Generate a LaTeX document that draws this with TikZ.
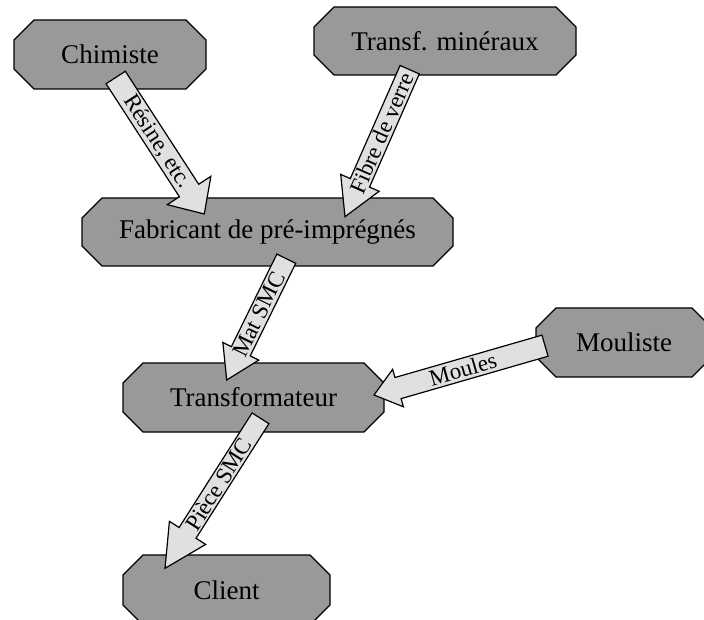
\documentclass[tikz,border=0pt]{standalone}
\usepackage{fontspec}
\setmainfont{Liberation Serif}
\usetikzlibrary{calc,backgrounds}
\definecolor{nodegray}{RGB}{153,153,153}
\definecolor{arrowgray}{RGB}{224,224,224}
\newcommand\NodeFnt{\fontsize{27}{32}\selectfont}
\newcommand\LblFnt{\fontsize{23}{27}\selectfont}
\tikzset{
  actor/.style={rectangle, inner sep=0pt, outer sep=0pt, font=\NodeFnt},
  octline/.style={draw=black, line width=1.2pt, fill=nodegray, line join=miter},
  flow/.style={draw=black, line width=1.2pt, fill=arrowgray, line join=miter},
  flowlabel/.style={font=\LblFnt, inner sep=0pt, sloped}
}
% octagonal outline behind a named node
\newcommand\octagon[1]{%
  \begin{pgfonlayer}{background}
  \draw[octline] ([xshift=20pt]#1.north west) -- ([xshift=-20pt]#1.north east)
    -- ([yshift=-20pt]#1.north east) -- ([yshift=20pt]#1.south east)
    -- ([xshift=-20pt]#1.south east) -- ([xshift=20pt]#1.south west)
    -- ([yshift=20pt]#1.south west) -- ([yshift=-20pt]#1.north west) -- cycle;
  \end{pgfonlayer}}
% #1 tail, #2 tip, #3 shaft half width, #4 head half width, #5 head length, #6 label pos, #7 label
\newcommand\flowarrow[7]{%
  \draw[flow] ($(#1)!#3!90:(#2)$) -- ($(#2)!#5!(#1)!#3!-90:(#1)$) -- ($(#2)!#5!(#1)!#4!-90:(#1)$)
    -- (#2) -- ($(#2)!#5!(#1)!#4!90:(#1)$) -- ($(#2)!#5!(#1)!#3!90:(#1)$) -- ($(#1)!#3!-90:(#2)$) -- cycle;
  \path (#1) -- (#2) node[flowlabel, pos=#6] {#7};
}
\begin{document}
\begin{tikzpicture}[x=1pt, y=-1pt]
\useasboundingbox (0,0) rectangle (704,620);
\node[actor, minimum width=192pt, minimum height=69pt] (chim) at (110,54.5) {Chimiste};
\node[actor, minimum width=262pt, minimum height=68pt] (mine) at (445,41) {Transf. minéraux};
\node[actor, minimum width=371pt, minimum height=68pt] (fab) at (267.5,232) {Fabricant de pré-imprégnés};
\node[actor, minimum width=261pt, minimum height=69pt] (trans) at (253.5,397.5) {Transformateur};
\node[actor, minimum width=176pt, minimum height=69pt] (moul) at (624,342.5) {Mouliste};
\node[actor, minimum width=207pt, minimum height=70pt] (cli) at (226.5,590) {Client};
\octagon{chim}
\octagon{mine}
\octagon{fab}
\octagon{trans}
\octagon{moul}
\octagon{cli}

\coordinate (a1s) at ($(chim)+(5.7,23)$);
\coordinate (a1e) at ($(fab)+(-63.2,-18)$);
\coordinate (a2s) at ($(mine)+(-35.3,28.7)$);
\coordinate (a2e) at ($(fab)+(77.5,-15.3)$);
\coordinate (a3s) at ($(fab)+(18.8,26.7)$);
\coordinate (a3e) at ($(trans)+(-26.8,-17.5)$);
\coordinate (a4s) at ($(moul)+(-79,3.2)$);
\coordinate (a4e) at ($(trans)+(120.5,-2.5)$);
\coordinate (a5s) at ($(trans)+(7,20.8)$);
\coordinate (a5e) at ($(cli)+(-61.5,-21.7)$);

\flowarrow{a1s}{a1e}{11.5pt}{26pt}{28pt}{0.47}{Résine, etc.}
\flowarrow{a2s}{a2e}{10.5pt}{21pt}{37pt}{0.43}{Fibre de verre}
\flowarrow{a3s}{a3e}{10.5pt}{20pt}{32pt}{0.46}{Mat SMC}
\flowarrow{a4s}{a4e}{11pt}{19.5pt}{25pt}{0.48}{Moules}
\flowarrow{a5s}{a5e}{10pt}{21.5pt}{42pt}{0.44}{Pièce SMC}
\end{tikzpicture}
\end{document}
